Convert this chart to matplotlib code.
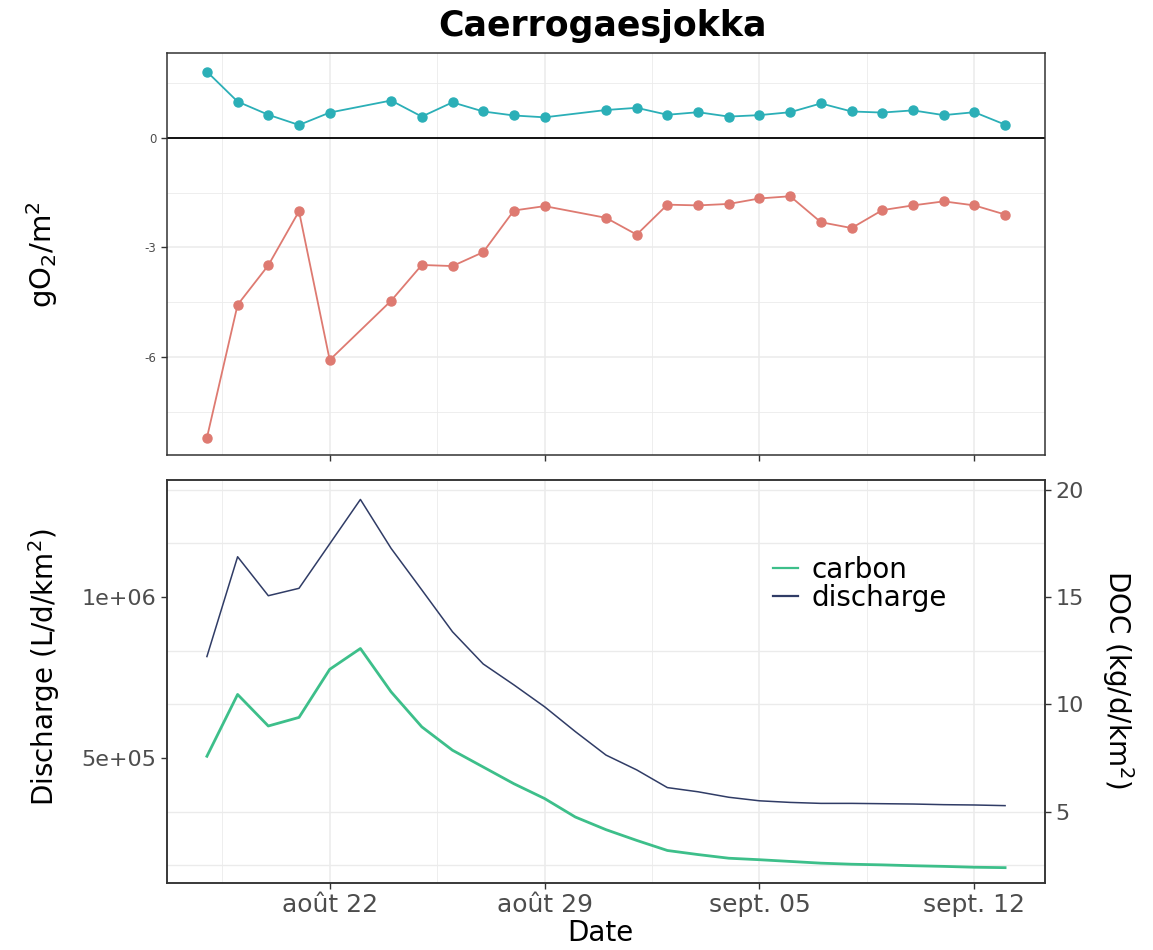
import matplotlib
matplotlib.use("Agg")
import matplotlib.pyplot as plt
import matplotlib.dates as mdates
from matplotlib.ticker import FixedLocator
from matplotlib.lines import Line2D
import numpy as np
import pandas as pd

# ---------------- data ----------------
top_dates = ["2023-08-18", "2023-08-19", "2023-08-20", "2023-08-21", "2023-08-22",
             "2023-08-24", "2023-08-25", "2023-08-26", "2023-08-27", "2023-08-28",
             "2023-08-29", "2023-08-31", "2023-09-01", "2023-09-02", "2023-09-03",
             "2023-09-04", "2023-09-05", "2023-09-06", "2023-09-07", "2023-09-08",
             "2023-09-09", "2023-09-10", "2023-09-11", "2023-09-12", "2023-09-13"]
gpp = [1.81, 0.99, 0.63, 0.35, 0.69, 1.02, 0.58, 0.97, 0.72, 0.61, 0.56, 0.76,
       0.82, 0.63, 0.70, 0.58, 0.62, 0.70, 0.94, 0.72, 0.69, 0.75, 0.62, 0.70, 0.36]
er = [-8.21, -4.57, -3.49, -2.01, -6.08, -4.46, -3.48, -3.51, -3.13, -1.99, -1.87,
      -2.19, -2.65, -1.83, -1.85, -1.81, -1.66, -1.60, -2.31, -2.47, -1.98, -1.85,
      -1.74, -1.85, -2.10]

bottom_dates = pd.date_range("2023-08-18", "2023-09-13", freq="D")
discharge = [815e3, 1125e3, 1004e3, 1027e3, 1165e3, 1303e3, 1151e3, 1022e3, 892e3,
             792e3, 727e3, 659e3, 582e3, 509e3, 463e3, 408e3, 395e3, 378e3, 367e3,
             362e3, 359e3, 359e3, 358e3, 357e3, 355e3, 354e3, 352e3]
carbon = [7.58, 10.46, 8.99, 9.39, 11.63, 12.60, 10.58, 8.95, 7.86, 7.08, 6.30, 5.61,
          4.75, 4.16, 3.66, 3.19, 3.00, 2.83, 2.76, 2.68, 2.60, 2.55, 2.52, 2.48,
          2.45, 2.41, 2.39]

x_tick_dates = ["2023-08-22", "2023-08-29", "2023-09-05", "2023-09-12"]
x_tick_labels = ["août 22", "août 29", "sept. 05", "sept. 12"]
top_yticks = [-6, -3, 0]
q_ticks = [5e5, 1e6]
q_tick_labels = ["5e+05", "1e+06"]
doc_ticks = [5, 10, 15, 20]
doc_factor = 1.5e-5   # DOC axis = discharge * factor

# ---------------- style ----------------
col_gpp = "#2bafb7"
col_er = "#de7a71"
col_carbon = "#3dbf8a"
col_dis = "#303c66"
grid_col = "#ebebeb"
tick_col = "#4d4d4d"
border_col = "#333333"

W, H = 1153, 950
fig = plt.figure(figsize=(W / 100, H / 100), dpi=100)

def fx(px):
    return px / W

def fy(py):
    return 1 - py / H

L, R = 167, 1045
ax1 = fig.add_axes([fx(L), fy(455), fx(R - L), (455 - 53) / H])
ax2 = fig.add_axes([fx(L), fy(883), fx(R - L), (883 - 480) / H])

t_top = pd.to_datetime(top_dates)
xt = pd.to_datetime(x_tick_dates)
x0 = pd.Timestamp("2023-08-18") - pd.Timedelta(hours=31.2)
x1 = pd.Timestamp("2023-09-13") + pd.Timedelta(hours=31.2)
xminor = [d - pd.Timedelta(hours=84) for d in xt] + [xt[-1] + pd.Timedelta(hours=84)]

for ax in (ax1, ax2):
    ax.set_xlim(x0, x1)
    ax.set_xticks(xt)
    ax.xaxis.set_minor_locator(FixedLocator(mdates.date2num(xminor)))
    ax.grid(True, which="major", color=grid_col, lw=1.1, zorder=0)
    ax.grid(True, which="minor", color=grid_col, lw=0.6, zorder=0)
    ax.tick_params(which="minor", length=0)
    ax.tick_params(which="major", length=4, width=1, color=border_col)
    for s in ax.spines.values():
        s.set_color(border_col)
        s.set_linewidth(1.1)
    ax.set_axisbelow(True)

# ---------------- top panel ----------------
ax1.set_ylim(-8.68, 2.32)
ax1.set_yticks(top_yticks)
ax1.set_yticklabels([str(v) for v in top_yticks], fontsize=8.5, color=tick_col)
ax1.yaxis.set_minor_locator(FixedLocator([-7.5, -4.5, -1.5, 1.5]))
ax1.set_xticklabels([])
ax1.axhline(0, color="black", lw=1.3, zorder=2)
ax1.plot(t_top, gpp, color=col_gpp, lw=1.3, marker="o", ms=6.5, zorder=3)
ax1.plot(t_top, er, color=col_er, lw=1.3, marker="o", ms=6.5, zorder=3)
fig.text(fx(42), fy(255), r"gO$_2$/m$^2$", rotation=90, ha="center", va="center",
         fontsize=21)

# ---------------- bottom panel ----------------
qlo, qhi = 1.117e5, 1.3634e6
ax2.set_ylim(qlo, qhi)
ax2.set_yticks(q_ticks)
ax2.set_yticklabels(q_tick_labels, fontsize=16, color=tick_col)
doc_grid = np.arange(2.5, 21, 2.5)
ax2.yaxis.set_minor_locator(FixedLocator(doc_grid / doc_factor))
ax2.grid(False, axis="y", which="major")
ax2.grid(True, axis="y", which="minor", color=grid_col, lw=1.0)
ax2.set_xticklabels(x_tick_labels, fontsize=18, color=tick_col)
ax2.plot(bottom_dates, discharge, color=col_dis, lw=1.1, zorder=3)

ax3 = ax2.twinx()
ax3.set_ylim(qlo * doc_factor, qhi * doc_factor)
ax3.set_yticks(doc_ticks)
ax3.set_yticklabels([str(v) for v in doc_ticks], fontsize=16, color=tick_col)
ax3.tick_params(length=4, width=1, color=border_col)
for s in ax3.spines.values():
    s.set_color(border_col)
    s.set_linewidth(1.1)
ax3.plot(bottom_dates, carbon, color=col_carbon, lw=2.0, zorder=3)
ax3.set_xlim(x0, x1)

fig.text(fx(44), fy(667), r"Discharge (L/d/km$^2$)", rotation=90, ha="center",
         va="center", fontsize=20)
fig.text(fx(1118), fy(680), r"DOC (kg/d/km$^2$)", rotation=270, ha="center",
         va="center", fontsize=20)
fig.text(fx(600), fy(933), "Date", ha="center", va="center", fontsize=20)

handles = [Line2D([], [], color=col_carbon, lw=1.6),
           Line2D([], [], color=col_dis, lw=1.6)]
fig.legend(handles, ["carbon", "discharge"], loc="upper left",
           bbox_to_anchor=(fx(773), fy(556)), bbox_transform=fig.transFigure,
           frameon=False, fontsize=20, handlelength=0.9, handletextpad=0.5,
           labelspacing=0.0, borderaxespad=0, borderpad=0)

fig.text(fx(603), fy(26), "Caerrogaesjokka", ha="center", va="center",
         fontsize=25, fontweight="bold")

fig.savefig("out.png", dpi=100)
